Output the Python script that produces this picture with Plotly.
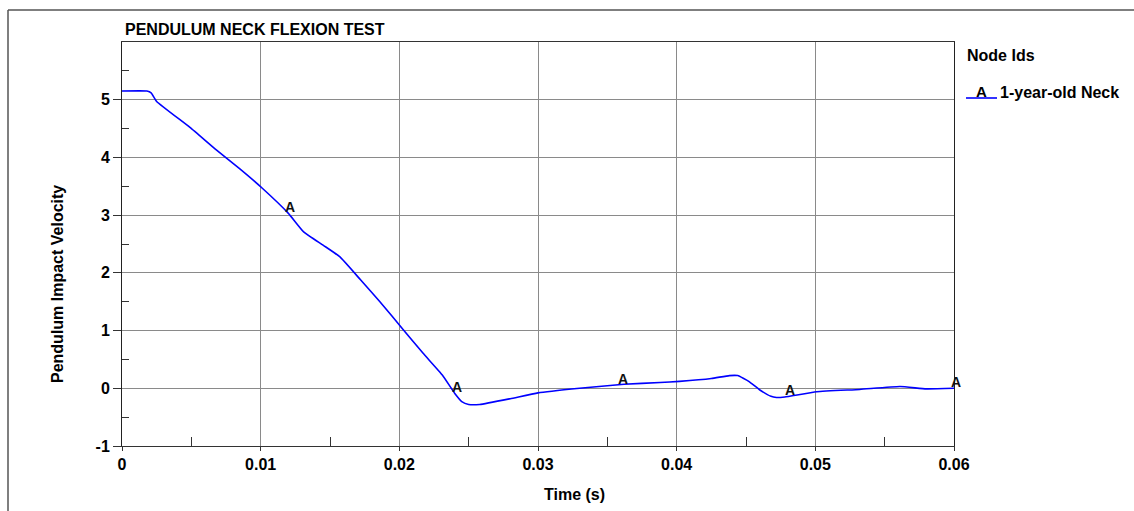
import numpy as np
import plotly.graph_objects as go

# ---- data ----
time_s = [0, 0.0018, 0.0021, 0.0025, 0.0049, 0.0068, 0.0085,
          0.0101, 0.0120, 0.0131, 0.0145, 0.0157, 0.0172, 0.0186, 0.0203, 0.0217, 0.0231,
          0.0240, 0.0245, 0.0250, 0.0258, 0.0280, 0.0300, 0.0330, 0.0362, 0.0388, 0.0402,
          0.0425, 0.0438, 0.0444, 0.0452, 0.0460, 0.0468, 0.0472, 0.0478, 0.0501, 0.0532,
          0.0561, 0.0580, 0.0600]
velocity = [5.15, 5.15, 5.12, 4.97, 4.52, 4.13, 3.80,
            3.47, 3.03, 2.71, 2.48, 2.28, 1.88, 1.50, 1.01, 0.61, 0.23,
            -0.09, -0.23, -0.28, -0.28, -0.18, -0.08, 0.00, 0.07, 0.10, 0.12,
            0.17, 0.22, 0.22, 0.12, -0.03, -0.14, -0.16, -0.15, -0.06, -0.02,
            0.03, -0.01, 0.00]
label_times = [0.012, 0.024, 0.036, 0.048, 0.060]
series_name = "1-year-old Neck"
series_letter = "A"
x_ticks = [0, 0.01, 0.02, 0.03, 0.04, 0.05, 0.06]
x_ticklabels = ["0", "0.01", "0.02", "0.03", "0.04", "0.05", "0.06"]
y_ticks = [-1, 0, 1, 2, 3, 4, 5]
y_ticklabels = ["-1", "0", "1", "2", "3", "4", "5"]

FONT = "Liberation Sans, Arial, sans-serif"
W, H = 1134, 511
L, R, T, B = 122, 954, 42, 446  # plot area in px


def px(xp):
    return (xp - L) / (R - L)


def py(yp):
    return (B - yp) / (B - T)


label_vals = np.interp(label_times, time_s, velocity)

fig = go.Figure()
fig.add_trace(go.Scatter(x=time_s, y=velocity, mode="lines",
                         line=dict(color="#0000ff", width=1.6, shape="spline", smoothing=0.4),
                         name=series_name, showlegend=False, hoverinfo="skip"))

fig.update_layout(
    width=W, height=H,
    margin=dict(l=L, r=W - R, t=T, b=H - B, pad=0),
    paper_bgcolor="white", plot_bgcolor="white",
    font=dict(family=FONT, size=16, color="black"),
    showlegend=False,
)

fig.update_xaxes(
    range=[0, 0.06], tickvals=x_ticks, ticktext=x_ticklabels,
    showgrid=True, gridcolor="#8a8a8a", gridwidth=1, zeroline=False,
    showline=True, linecolor="#333", linewidth=1, mirror=True,
    ticks="outside", ticklen=4, tickcolor="#333",
    tickfont=dict(family=FONT, size=16, color="black", weight="bold"),
    minor=dict(tickvals=list(np.arange(0.005, 0.06, 0.01)), ticks="inside",
               ticklen=9, tickcolor="#333", showgrid=False),
)
fig.update_yaxes(
    range=[-1, 6], tickvals=y_ticks, ticktext=y_ticklabels,
    showgrid=True, gridcolor="#8a8a8a", gridwidth=1, zeroline=False,
    showline=True, linecolor="#222", linewidth=1, mirror=True,
    ticks="outside", ticklen=8, tickcolor="#333",
    tickfont=dict(family=FONT, size=16, color="black", weight="bold"),
    minor=dict(tickvals=list(np.arange(-0.5, 6, 1.0)), ticks="inside",
               ticklen=7, tickcolor="#333", showgrid=False),
)

anns = [
    dict(text="PENDULUM NECK FLEXION TEST", x=px(123), y=py(30), xanchor="left", yanchor="middle",
         font=dict(size=16, weight="bold")),
    dict(text="Time (s)", x=px(574), y=py(495), xanchor="center", yanchor="middle",
         font=dict(size=16, weight="bold")),
    dict(text="Pendulum Impact Velocity", x=px(57), y=py(284), xanchor="center", yanchor="middle",
         textangle=-90, font=dict(size=16, weight="bold")),
    dict(text="Node Ids", x=px(965), y=py(55), xanchor="left", yanchor="middle",
         font=dict(size=16, weight="bold")),
    dict(text=series_letter, x=px(981), y=py(91), xanchor="center", yanchor="middle",
         font=dict(size=15, weight="bold")),
    dict(text=series_name, x=px(998), y=py(92), xanchor="left", yanchor="middle",
         font=dict(size=16, weight="bold")),
]
for a in anns:
    a.update(xref="paper", yref="paper", showarrow=False)
    a["font"].setdefault("family", FONT)
    a["font"].setdefault("color", "black")

# curve letter labels, positioned through the data axes
for lt, lv in zip(label_times, label_vals):
    anns.append(dict(text=series_letter, x=lt, y=lv, xref="x", yref="y", showarrow=False,
                     xanchor="center", yanchor="bottom", xshift=2, yshift=-4,
                     font=dict(family=FONT, size=14, color="#111", weight="bold")))
fig.update_layout(annotations=anns)

shapes = [
    # legend line
    dict(type="line", x0=px(966), x1=px(997), y0=py(98), y1=py(98), line=dict(color="#0000ff", width=1.6)),
    # outer frame (top and left)
    dict(type="line", x0=px(8), x1=px(W + 5), y0=py(10), y1=py(10), line=dict(color="#555", width=1.5)),
    dict(type="line", x0=px(8), x1=px(8), y0=py(10), y1=py(H + 5), line=dict(color="#555", width=1.5)),
]
for s in shapes:
    s.update(xref="paper", yref="paper")
fig.update_layout(shapes=shapes)

fig.write_html("out.html", config={"displayModeBar": False},
               post_script="document.body.style.margin='0';document.body.style.overflow='hidden';")
